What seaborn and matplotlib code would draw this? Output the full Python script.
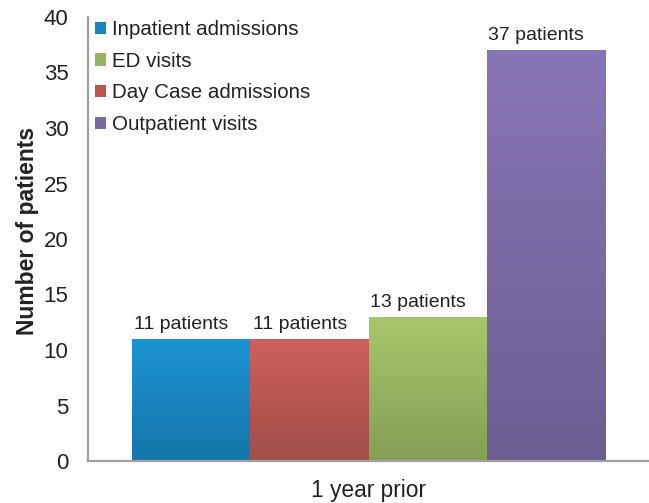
import numpy as np
import pandas as pd
import matplotlib
matplotlib.use("Agg")
import matplotlib.pyplot as plt
import seaborn as sns
from matplotlib.colors import LinearSegmentedColormap
from matplotlib.patches import Patch

period = ["1 year prior"]
categories = ["Inpatient admissions", "Day Case admissions", "ED visits", "Outpatient visits"]
values = [11, 11, 13, 37]
bar_labels = ["11 patients", "11 patients", "13 patients", "37 patients"]
legend_order = ["Inpatient admissions", "ED visits", "Day Case admissions", "Outpatient visits"]
top_colors = ["#1b94d2", "#ce605a", "#a8c76b", "#8776b4"]
bottom_colors = ["#1576ab", "#a24e48", "#849e55", "#6c5e91"]
mid_colors = ["#1885bf", "#b85750", "#97b260", "#7a6aa2"]

df = pd.DataFrame({"period": period * len(categories), "type": categories, "value": values})

sns.set_theme(style="white")
plt.rcParams["font.family"] = ["Liberation Sans", "DejaVu Sans"]

fig = plt.figure(figsize=(6.49, 5.03), dpi=100)
ax = fig.add_axes([88 / 649, 42 / 503, 561 / 649, 444 / 503])

palette = dict(zip(categories, mid_colors))
sns.barplot(data=df, x="period", y="value", hue="type", hue_order=categories,
            palette=palette, width=0.843, ax=ax, legend=False, saturation=1,
            linewidth=0)

ax.set_xlim(-0.5, 0.5)
ax.set_ylim(0, 40)
ax.set_yticks(range(0, 41, 5))

bars = [p for p in ax.patches][:len(categories)]
for p, tc, bc, lab in zip(bars, top_colors, bottom_colors, bar_labels):
    x0, y0 = p.get_x(), p.get_y()
    w, h = p.get_width(), p.get_height()
    cmap = LinearSegmentedColormap.from_list("g", [bc, tc])
    grad = np.linspace(0, 1, 256).reshape(-1, 1)
    im = ax.imshow(grad, cmap=cmap, origin="lower", aspect="auto",
                   extent=[x0, x0 + w, y0, y0 + h], zorder=2)
    im.set_clip_path(p)
    ax.annotate(lab, xy=(x0 + w / 2, y0 + h), xytext=(-7, 4.4),
                textcoords="offset points", ha="center", va="bottom",
                fontsize=14, color="#222222")

ax.set_xlim(-0.5, 0.5)
ax.set_ylim(0, 40)

for s in ["top", "right"]:
    ax.spines[s].set_visible(False)
ax.spines["left"].set_color("#a0a0a0")
ax.spines["bottom"].set_color("#a0a0a0")
ax.spines["left"].set_linewidth(1.6)
ax.spines["bottom"].set_linewidth(1.6)

ax.tick_params(axis="y", length=0, pad=14, labelsize=16, labelcolor="#222222")
ax.tick_params(axis="x", length=0, pad=13, labelsize=16.4, labelcolor="#222222")
ax.set_xlabel("")
ax.set_ylabel("Number of patients", fontsize=16.5, fontweight="bold", color="#222222")
ax.yaxis.set_label_coords(-0.087, 0.518)

handles = [Patch(facecolor=palette[c], edgecolor="none") for c in legend_order]
leg = ax.legend(handles, legend_order, loc="upper left",
                bbox_to_anchor=(95 / 649, 1 - 20 / 503), bbox_transform=fig.transFigure,
                frameon=False, fontsize=14.8, handlelength=0.55, handleheight=0.55,
                handletextpad=0.3, labelspacing=0.62, borderaxespad=0, borderpad=0)
for t in leg.get_texts():
    t.set_color("#222222")

fig.savefig("out.png", dpi=100)
